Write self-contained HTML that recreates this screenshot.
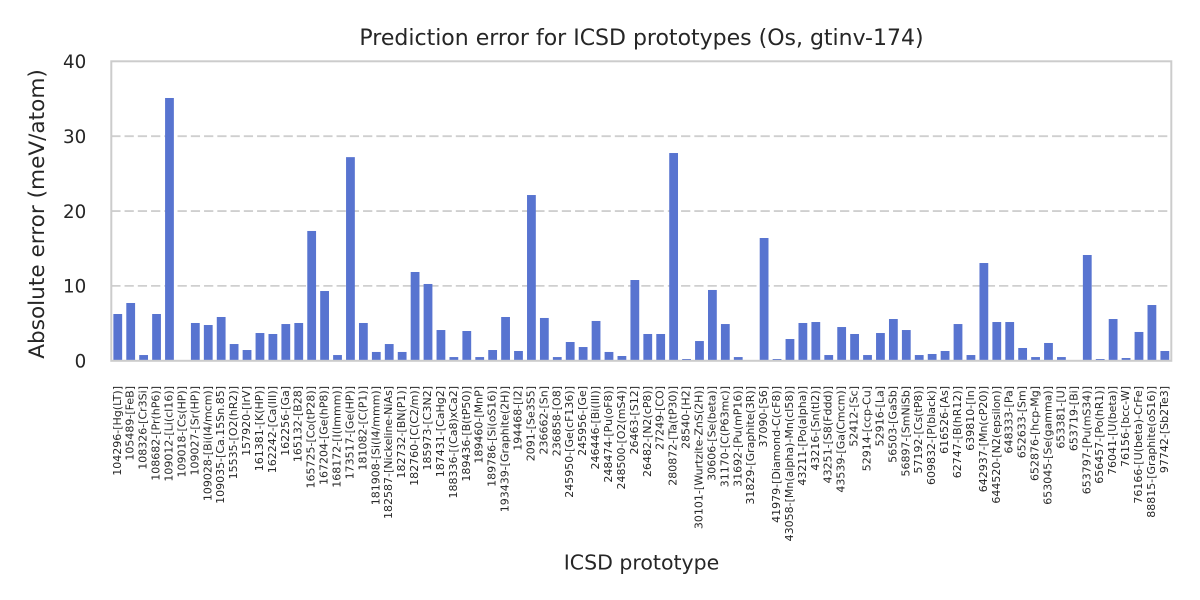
<!DOCTYPE html>
<html><head><meta charset="utf-8"><style>
html,body{margin:0;padding:0;background:#fff;}
svg{display:block;font-family:"DejaVu Sans","Liberation Sans",sans-serif;}
.xt{font-size:11px;fill:#262626;}
</style></head><body>
<svg width="1200" height="600" viewBox="0 0 1200 600" xmlns="http://www.w3.org/2000/svg">
<rect width="1200" height="600" fill="#fff"/>
<g stroke="#cfcfcf" stroke-width="1.8" stroke-dasharray="9.25 4" fill="none">
<line x1="111.3" y1="285.9" x2="1171.3" y2="285.9"/>
<line x1="111.3" y1="211.05" x2="1171.3" y2="211.05"/>
<line x1="111.3" y1="136.2" x2="1171.3" y2="136.2"/>
</g>
<g transform="translate(104.837 360.8) scale(12.9268 -7.4875)" fill="#5874d0">
<rect x="0.66" y="0" width="0.68" height="6.25"/>
<rect x="1.66" y="0" width="0.68" height="7.72"/>
<rect x="2.66" y="0" width="0.68" height="0.77"/>
<rect x="3.66" y="0" width="0.68" height="6.25"/>
<rect x="4.66" y="0" width="0.68" height="35.1"/>
<rect x="6.66" y="0" width="0.68" height="5.05"/>
<rect x="7.66" y="0" width="0.68" height="4.78"/>
<rect x="8.66" y="0" width="0.68" height="5.85"/>
<rect x="9.66" y="0" width="0.68" height="2.24"/>
<rect x="10.66" y="0" width="0.68" height="1.44"/>
<rect x="11.66" y="0" width="0.68" height="3.71"/>
<rect x="12.66" y="0" width="0.68" height="3.58"/>
<rect x="13.66" y="0" width="0.68" height="4.91"/>
<rect x="14.66" y="0" width="0.68" height="5.05"/>
<rect x="15.66" y="0" width="0.68" height="17.34"/>
<rect x="16.66" y="0" width="0.68" height="9.32"/>
<rect x="17.66" y="0" width="0.68" height="0.77"/>
<rect x="18.66" y="0" width="0.68" height="27.2"/>
<rect x="19.66" y="0" width="0.68" height="5.05"/>
<rect x="20.66" y="0" width="0.68" height="1.18"/>
<rect x="21.66" y="0" width="0.68" height="2.24"/>
<rect x="22.66" y="0" width="0.68" height="1.18"/>
<rect x="23.66" y="0" width="0.68" height="11.86"/>
<rect x="24.66" y="0" width="0.68" height="10.26"/>
<rect x="25.66" y="0" width="0.68" height="4.11"/>
<rect x="26.66" y="0" width="0.68" height="0.5"/>
<rect x="27.66" y="0" width="0.68" height="3.98"/>
<rect x="28.66" y="0" width="0.68" height="0.5"/>
<rect x="29.66" y="0" width="0.68" height="1.44"/>
<rect x="30.66" y="0" width="0.68" height="5.85"/>
<rect x="31.66" y="0" width="0.68" height="1.31"/>
<rect x="32.66" y="0" width="0.68" height="22.14"/>
<rect x="33.66" y="0" width="0.68" height="5.72"/>
<rect x="34.66" y="0" width="0.68" height="0.5"/>
<rect x="35.66" y="0" width="0.68" height="2.51"/>
<rect x="36.66" y="0" width="0.68" height="1.84"/>
<rect x="37.66" y="0" width="0.68" height="5.32"/>
<rect x="38.66" y="0" width="0.68" height="1.18"/>
<rect x="39.66" y="0" width="0.68" height="0.64"/>
<rect x="40.66" y="0" width="0.68" height="10.79"/>
<rect x="41.66" y="0" width="0.68" height="3.58"/>
<rect x="42.66" y="0" width="0.68" height="3.58"/>
<rect x="43.66" y="0" width="0.68" height="27.75"/>
<rect x="44.66" y="0" width="0.68" height="0.24"/>
<rect x="45.66" y="0" width="0.68" height="2.64"/>
<rect x="46.66" y="0" width="0.68" height="9.46"/>
<rect x="47.66" y="0" width="0.68" height="4.91"/>
<rect x="48.66" y="0" width="0.68" height="0.5"/>
<rect x="50.66" y="0" width="0.68" height="16.4"/>
<rect x="51.66" y="0" width="0.68" height="0.24"/>
<rect x="52.66" y="0" width="0.68" height="2.91"/>
<rect x="53.66" y="0" width="0.68" height="5.05"/>
<rect x="54.66" y="0" width="0.68" height="5.18"/>
<rect x="55.66" y="0" width="0.68" height="0.77"/>
<rect x="56.66" y="0" width="0.68" height="4.51"/>
<rect x="57.66" y="0" width="0.68" height="3.58"/>
<rect x="58.66" y="0" width="0.68" height="0.77"/>
<rect x="59.66" y="0" width="0.68" height="3.71"/>
<rect x="60.66" y="0" width="0.68" height="5.58"/>
<rect x="61.66" y="0" width="0.68" height="4.11"/>
<rect x="62.66" y="0" width="0.68" height="0.77"/>
<rect x="63.66" y="0" width="0.68" height="0.91"/>
<rect x="64.66" y="0" width="0.68" height="1.31"/>
<rect x="65.66" y="0" width="0.68" height="4.91"/>
<rect x="66.66" y="0" width="0.68" height="0.77"/>
<rect x="67.66" y="0" width="0.68" height="13.06"/>
<rect x="68.66" y="0" width="0.68" height="5.18"/>
<rect x="69.66" y="0" width="0.68" height="5.18"/>
<rect x="70.66" y="0" width="0.68" height="1.71"/>
<rect x="71.66" y="0" width="0.68" height="0.5"/>
<rect x="72.66" y="0" width="0.68" height="2.38"/>
<rect x="73.66" y="0" width="0.68" height="0.5"/>
<rect x="75.66" y="0" width="0.68" height="14.13"/>
<rect x="76.66" y="0" width="0.68" height="0.24"/>
<rect x="77.66" y="0" width="0.68" height="5.58"/>
<rect x="78.66" y="0" width="0.68" height="0.37"/>
<rect x="79.66" y="0" width="0.68" height="3.85"/>
<rect x="80.66" y="0" width="0.68" height="7.45"/>
<rect x="81.66" y="0" width="0.68" height="1.31"/>
</g>
<rect x="111.3" y="61.3" width="1060" height="299.5" fill="none" stroke="#cccccc" stroke-width="2"/>
<g font-size="18.3" fill="#262626" text-anchor="end">
<text x="86.3" y="367.5">0</text>
<text x="86.3" y="292.6">10</text>
<text x="86.3" y="217.75">20</text>
<text x="86.3" y="142.9">30</text>
<text x="86.3" y="68">40</text>
</g>
<text x="641.5" y="45" font-size="22" fill="#262626" text-anchor="middle">Prediction error for ICSD prototypes (Os, gtinv-174)</text>
<text x="641.5" y="569.3" font-size="20.5" fill="#262626" text-anchor="middle">ICSD prototype</text>
<text transform="translate(44 214) rotate(-90)" font-size="21.6" fill="#262626" text-anchor="middle">Absolute error (meV/atom)</text>
<g class="xt" text-anchor="end">
<text transform="translate(120.76 386) rotate(-90)">104296-[Hg(LT)]</text>
<text transform="translate(133.69 386) rotate(-90)">105489-[FeB]</text>
<text transform="translate(146.62 386) rotate(-90)">108326-[Cr3Si]</text>
<text transform="translate(159.54 386) rotate(-90)">108682-[Pr(hP6)]</text>
<text transform="translate(172.47 386) rotate(-90)">109012-[Li(cI16)]</text>
<text transform="translate(185.40 386) rotate(-90)">109018-[Cs(HP)]</text>
<text transform="translate(198.32 386) rotate(-90)">109027-[Sr(HP)]</text>
<text transform="translate(211.25 386) rotate(-90)">109028-[Bi(I4/mcm)]</text>
<text transform="translate(224.18 386) rotate(-90)">109035-[Ca.15Sn.85]</text>
<text transform="translate(237.11 386) rotate(-90)">15535-[O2(hR2)]</text>
<text transform="translate(250.03 386) rotate(-90)">157920-[IrV]</text>
<text transform="translate(262.96 386) rotate(-90)">161381-[K(HP)]</text>
<text transform="translate(275.89 386) rotate(-90)">162242-[Ca(III)]</text>
<text transform="translate(288.81 386) rotate(-90)">162256-[Ga]</text>
<text transform="translate(301.74 386) rotate(-90)">165132-[B28]</text>
<text transform="translate(314.67 386) rotate(-90)">165725-[Co(tP28)]</text>
<text transform="translate(327.59 386) rotate(-90)">167204-[Ge(hP8)]</text>
<text transform="translate(340.52 386) rotate(-90)">168172-[I(Immm)]</text>
<text transform="translate(353.45 386) rotate(-90)">173517-[Ge(HP)]</text>
<text transform="translate(366.37 386) rotate(-90)">181082-[C(P1)]</text>
<text transform="translate(379.30 386) rotate(-90)">181908-[Si(I4/mmm)]</text>
<text transform="translate(392.23 386) rotate(-90)">182587-[Nickeline-NiAs]</text>
<text transform="translate(405.15 386) rotate(-90)">182732-[BN(P1)]</text>
<text transform="translate(418.08 386) rotate(-90)">182760-[C(C2/m)]</text>
<text transform="translate(431.01 386) rotate(-90)">185973-[C3N2]</text>
<text transform="translate(443.93 386) rotate(-90)">187431-[CaHg2]</text>
<text transform="translate(456.86 386) rotate(-90)">188336-[(Ca8)xCa2]</text>
<text transform="translate(469.79 386) rotate(-90)">189436-[B(tP50)]</text>
<text transform="translate(482.71 386) rotate(-90)">189460-[MnP]</text>
<text transform="translate(495.64 386) rotate(-90)">189786-[Si(oS16)]</text>
<text transform="translate(508.57 386) rotate(-90)">193439-[Graphite(2H)]</text>
<text transform="translate(521.50 386) rotate(-90)">194468-[I2]</text>
<text transform="translate(534.42 386) rotate(-90)">2091-[Se3S5]</text>
<text transform="translate(547.35 386) rotate(-90)">236662-[Sn]</text>
<text transform="translate(560.28 386) rotate(-90)">236858-[O8]</text>
<text transform="translate(573.20 386) rotate(-90)">245950-[Ge(cF136)]</text>
<text transform="translate(586.13 386) rotate(-90)">245956-[Ge]</text>
<text transform="translate(599.06 386) rotate(-90)">246446-[Bi(III)]</text>
<text transform="translate(611.98 386) rotate(-90)">248474-[Pu(oF8)]</text>
<text transform="translate(624.91 386) rotate(-90)">248500-[O2(mS4)]</text>
<text transform="translate(637.84 386) rotate(-90)">26463-[S12]</text>
<text transform="translate(650.76 386) rotate(-90)">26482-[N2(cP8)]</text>
<text transform="translate(663.69 386) rotate(-90)">27249-[CO]</text>
<text transform="translate(676.62 386) rotate(-90)">280872-[Ta(tP30)]</text>
<text transform="translate(689.54 386) rotate(-90)">28540-[H2]</text>
<text transform="translate(702.47 386) rotate(-90)">30101-[Wurtzite-ZnS(2H)]</text>
<text transform="translate(715.40 386) rotate(-90)">30606-[Se(beta)]</text>
<text transform="translate(728.32 386) rotate(-90)">31170-[C(P63mc)]</text>
<text transform="translate(741.25 386) rotate(-90)">31692-[Pu(mP16)]</text>
<text transform="translate(754.18 386) rotate(-90)">31829-[Graphite(3R)]</text>
<text transform="translate(767.10 386) rotate(-90)">37090-[S6]</text>
<text transform="translate(780.03 386) rotate(-90)">41979-[Diamond-C(cF8)]</text>
<text transform="translate(792.96 386) rotate(-90)">43058-[Mn(alpha)-Mn(cI58)]</text>
<text transform="translate(805.89 386) rotate(-90)">43211-[Po(alpha)]</text>
<text transform="translate(818.81 386) rotate(-90)">43216-[Sn(tI2)]</text>
<text transform="translate(831.74 386) rotate(-90)">43251-[S8(Fddd)]</text>
<text transform="translate(844.67 386) rotate(-90)">43539-[Ga(Cmcm)]</text>
<text transform="translate(857.59 386) rotate(-90)">52412-[Sc]</text>
<text transform="translate(870.52 386) rotate(-90)">52914-[ccp-Cu]</text>
<text transform="translate(883.45 386) rotate(-90)">52916-[La]</text>
<text transform="translate(896.37 386) rotate(-90)">56503-[GaSb]</text>
<text transform="translate(909.30 386) rotate(-90)">56897-[SmNiSb]</text>
<text transform="translate(922.23 386) rotate(-90)">57192-[Cs(tP8)]</text>
<text transform="translate(935.15 386) rotate(-90)">609832-[P(black)]</text>
<text transform="translate(948.08 386) rotate(-90)">616526-[As]</text>
<text transform="translate(961.01 386) rotate(-90)">62747-[B(hR12)]</text>
<text transform="translate(973.93 386) rotate(-90)">639810-[In]</text>
<text transform="translate(986.86 386) rotate(-90)">642937-[Mn(cP20)]</text>
<text transform="translate(999.79 386) rotate(-90)">644520-[N2(epsilon)]</text>
<text transform="translate(1012.71 386) rotate(-90)">648333-[Pa]</text>
<text transform="translate(1025.64 386) rotate(-90)">652633-[Sm]</text>
<text transform="translate(1038.57 386) rotate(-90)">652876-[hcp-Mg]</text>
<text transform="translate(1051.49 386) rotate(-90)">653045-[Se(gamma)]</text>
<text transform="translate(1064.42 386) rotate(-90)">653381-[U]</text>
<text transform="translate(1077.35 386) rotate(-90)">653719-[Bi]</text>
<text transform="translate(1090.28 386) rotate(-90)">653797-[Pu(mS34)]</text>
<text transform="translate(1103.20 386) rotate(-90)">656457-[Po(hR1)]</text>
<text transform="translate(1116.13 386) rotate(-90)">76041-[U(beta)]</text>
<text transform="translate(1129.06 386) rotate(-90)">76156-[bcc-W]</text>
<text transform="translate(1141.98 386) rotate(-90)">76166-[U(beta)-CrFe]</text>
<text transform="translate(1154.91 386) rotate(-90)">88815-[Graphite(oS16)]</text>
<text transform="translate(1167.84 386) rotate(-90)">97742-[Sb2Te3]</text>
</g>
</svg>
</body></html>
